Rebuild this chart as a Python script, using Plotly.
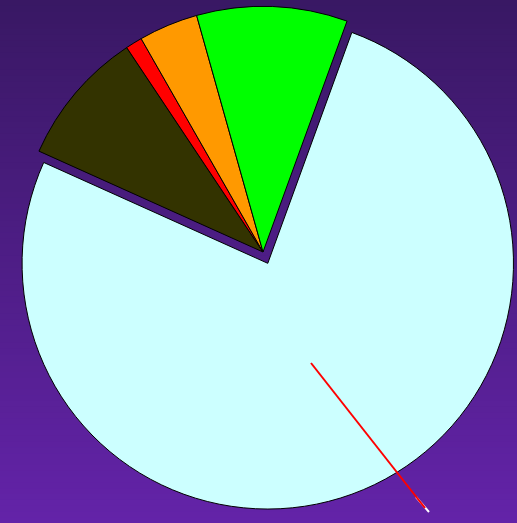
import plotly.graph_objects as go

labels = ["Main", "Olive", "Red", "Orange", "Green"]
values = [76.1, 8.9, 1.1, 3.9, 9.9]
colors = ["#ccffff", "#333300", "#ff0000", "#ff9900", "#00ff00"]
pulls = [0.05, 0, 0, 0, 0]

W, H = 521, 530
ML, MR, MT, MB = 5, 0, 0, 14
SHIFT = 6  # div shifted up by this many px
PW, PH = W - ML - MR, H - MT - MB
top_rgb = (57, 24, 100)
bot_rgb = (99, 35, 168)


def px(sx):
    return (sx - ML) / PW


def py(sy):
    return 1 - (sy + SHIFT - MT) / PH


fig = go.Figure(go.Pie(
    labels=labels, values=values, sort=False, direction="clockwise",
    rotation=20, pull=pulls, textinfo="none", hoverinfo="label+percent",
    marker=dict(colors=colors, line=dict(color="#000000", width=1)),
    showlegend=False,
))

shapes = []
n = 90
for i in range(n):
    t = i / (n - 1)
    c = tuple(round(a + (b - a) * t) for a, b in zip(top_rgb, bot_rgb))
    s0 = 523 * i / n - (20 if i == 0 else 0)
    s1 = 523 * (i + 1) / n + (20 if i == n - 1 else 1)
    shapes.append(dict(type="rect", xref="paper", yref="paper", layer="below",
                       x0=-0.1, x1=1.1, y0=py(s1), y1=py(s0),
                       line=dict(width=0), fillcolor="rgb(%d,%d,%d)" % c))

# leader line
shapes.append(dict(type="line", xref="paper", yref="paper", layer="above",
                   x0=px(416), y0=py(497), x1=px(429), y1=py(512),
                   line=dict(color="#ffffff", width=2)))
shapes.append(dict(type="line", xref="paper", yref="paper", layer="above",
                   x0=px(311), y0=py(363), x1=px(425), y1=py(508),
                   line=dict(color="#ff0000", width=2)))

fig.update_layout(
    width=W, height=H, margin=dict(l=ML, r=MR, t=MT, b=MB),
    paper_bgcolor="rgb(57,24,100)", plot_bgcolor="rgba(0,0,0,0)",
    shapes=shapes,
)
fig.write_html(
    "out.html",
    config={"displayModeBar": False},
    post_script=(
        "document.body.style.margin='0';document.body.style.overflow='hidden';"
        "document.documentElement.style.background='rgb(99,35,168)';"
        "document.getElementById('{plot_id}').style.marginTop='-%dpx';" % SHIFT
    ),
)
